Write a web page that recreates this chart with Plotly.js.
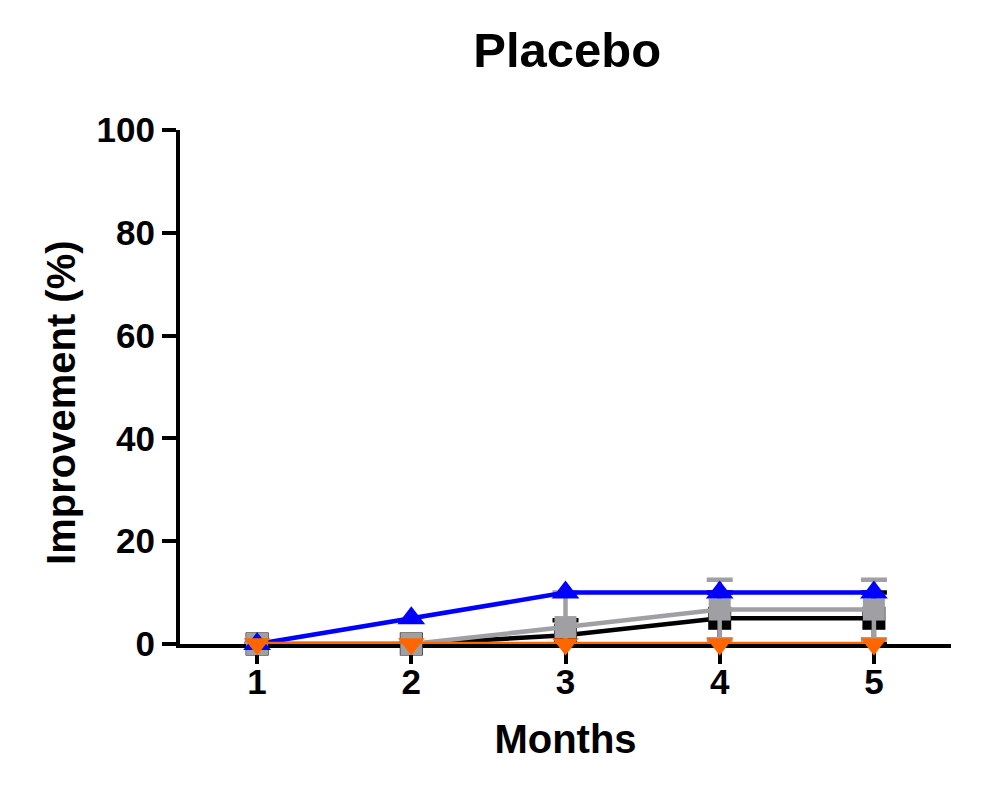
<!DOCTYPE html>
<html><head><meta charset="utf-8">
<script src="https://cdn.plot.ly/plotly-3.0.1.min.js"></script>
<style>body{margin:0;background:#fff}#c{width:983px;height:787px}</style>
</head><body><div id="c"></div>
<script>
const months = [1, 2, 3, 4, 5];
const blackVals = [0, 0, 1.7, 5, 5];
const blackErr = [0, 0, 2.9, 5, 5];
const grayVals = [0, 0, 3.3, 6.7, 6.7];
const grayErr = [0, 0, 6.7, 5.8, 5.8];
const blueVals = [0, 5, 10, 10, 10];
const orangeVals = [0, 0, 0, 0, 0];
const yTicks = [0, 20, 40, 60, 80, 100];

function tr(y, err, color, symbol, size) {
  const t = {x: months, y: y, mode: 'lines+markers', type: 'scatter', showlegend: false,
    line: {color: color, width: 4.5},
    marker: {color: color, symbol: symbol, size: size},
    cliponaxis: false};
  if (err) t.error_y = {type: 'data', array: err, visible: true, color: color, thickness: 4.5, width: 13};
  return t;
}
const data = [
  tr(blackVals, blackErr, '#000000', 'square', 23),
  tr(grayVals, grayErr, '#a0a0a4', 'square', 22),
  tr(blueVals, null, '#0000ff', 'triangle-up', 24),
  tr(orangeVals, null, '#ff6600', 'triangle-down', 23)
];
const fnt = {family: 'Liberation Sans, Arial, sans-serif', color: '#000'};
const layout = {
  width: 983, height: 787,
  margin: {l: 180, r: 32, t: 130, b: 143},
  paper_bgcolor: '#fff', plot_bgcolor: '#fff',
  title: {text: '<b>Placebo</b>', x: 0.577, xanchor: 'center', y: 0.937, yanchor: 'middle',
    font: Object.assign({}, fnt, {size: 49})},
  xaxis: {range: [0.5, 5.5], tickvals: months, ticktext: months.map(String), layer: 'below traces',
    showgrid: false, zeroline: false, showline: true, linecolor: '#000', linewidth: 4,
    ticks: 'outside', ticklen: 16, tickwidth: 4, tickcolor: '#000', ticklabelstandoff: -12,
    tickfont: Object.assign({}, fnt, {size: 35, weight: 'bold'}),
    title: {text: '<b>Months</b>', font: Object.assign({}, fnt, {size: 40}), standoff: 26}},
  yaxis: {range: [0, 100], tickvals: yTicks, showgrid: false, zeroline: false, layer: 'below traces',
    showline: true, linecolor: '#000', linewidth: 4,
    ticks: 'outside', ticklen: 14, tickwidth: 4, tickcolor: '#000',
    tickfont: Object.assign({}, fnt, {size: 35, weight: 'bold'})},
  annotations: [{text: '<b>Improvement (%)</b>', xref: 'paper', yref: 'paper',
    x: -0.1543, y: 0.469, xanchor: 'center', yanchor: 'middle', textangle: -90, showarrow: false,
    font: Object.assign({}, fnt, {size: 40})}]
};
Plotly.newPlot('c', data, layout, {displayModeBar: false, staticPlot: true});
</script></body></html>
